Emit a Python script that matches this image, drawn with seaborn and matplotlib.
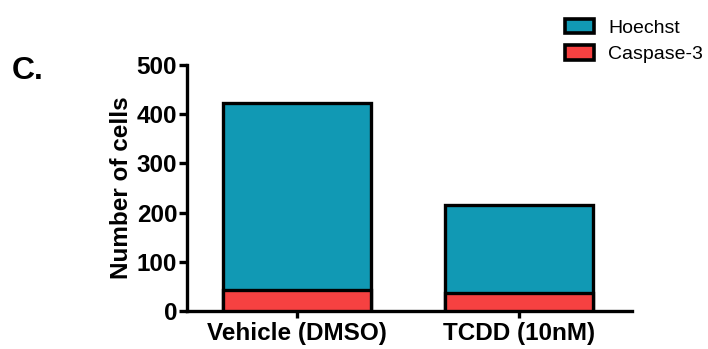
import matplotlib
matplotlib.use("Agg")
import matplotlib.pyplot as plt
import seaborn as sns
import pandas as pd
from matplotlib.patches import Patch

# Cell counts per treatment
treatments = ["Vehicle (DMSO)", "TCDD (10nM)"]
hoechst = [423, 215]
caspase3 = [42, 36]
y_ticks = [0, 100, 200, 300, 400, 500]

teal = "#1199B4"
red = "#F64141"

sns.set_theme(style="white")
plt.rcParams["font.family"] = ["Liberation Sans", "DejaVu Sans"]
plt.rcParams["text.color"] = "black"
plt.rcParams["axes.labelcolor"] = "black"
plt.rcParams["xtick.color"] = "black"
plt.rcParams["ytick.color"] = "black"

df = pd.DataFrame({"treatment": treatments, "Hoechst": hoechst, "Caspase-3": caspase3})

fig = plt.figure(figsize=(7.08, 3.49), dpi=100)
ax = fig.add_axes([0.264, 0.109, 0.629, 0.705])

lw = 2.4
sns.barplot(data=df, x="treatment", y="Hoechst", color=teal, width=0.667,
            edgecolor="black", linewidth=lw, saturation=1, ax=ax, zorder=2)
sns.barplot(data=df, x="treatment", y="Caspase-3", color=red, width=0.667,
            edgecolor="black", linewidth=lw, saturation=1, ax=ax, zorder=3)

ax.set_xlim(-0.495, 1.51)
ax.set_ylim(0, 500)
ax.set_yticks(y_ticks)
ax.set_xlabel("")
ax.set_ylabel("Number of cells", fontsize=17.5, fontweight="bold", labelpad=3)
for lab in ax.get_yticklabels() + ax.get_xticklabels():
    lab.set_fontweight("bold")
    lab.set_fontsize(17.5)

sns.despine(ax=ax)
for side in ["left", "bottom"]:
    ax.spines[side].set_linewidth(2.4)
    ax.spines[side].set_color("black")
ax.tick_params(axis="y", length=6, width=2.4, color="black", pad=1, left=True)
ax.tick_params(axis="x", length=5, width=2.4, color="black", pad=3, bottom=True)

handles = [Patch(facecolor=teal, edgecolor="black", linewidth=2.6, joinstyle="round",
                 label="Hoechst"),
           Patch(facecolor=red, edgecolor="black", linewidth=2.6, joinstyle="round",
                 label="Caspase-3")]
fig.legend(handles=handles, loc="upper left", bbox_to_anchor=(0.779, 0.985),
           frameon=False, fontsize=14, handlelength=1.5, handleheight=0.75,
           handletextpad=0.7, labelspacing=0.45, borderaxespad=0.3)

fig.text(0.017, 0.773, "C.", fontsize=23, fontweight="bold", ha="left", va="baseline")

fig.savefig("out.png", dpi=100)
